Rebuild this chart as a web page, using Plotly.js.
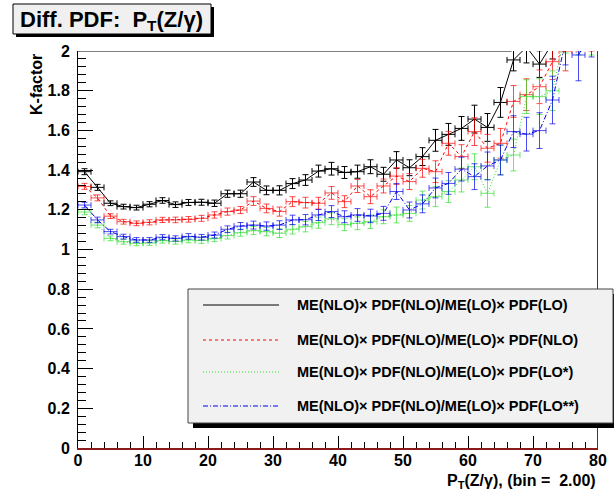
<!DOCTYPE html>
<html>
<head>
<meta charset="utf-8">
<script src="https://cdn.plot.ly/plotly-3.0.1.min.js"></script>
<style>html,body{margin:0;padding:0;background:#fff;}#chart{width:614px;height:494px;}</style>
</head>
<body>
<div id="chart"></div>
<script>
// bin centres (bin width 2)
const binCenters = [1,3,5,7,9,11,13,15,17,19,21,23,25,27,29,31,33,35,37,39,41,43,45,47,49,51,53,55,57,59,61,63,65,67,69,71,73,75,77,79];

const seriesNames = [
  "ME(NLO)\u00d7 PDF(NLO)/ME(LO)\u00d7 PDF(LO)",
  "ME(NLO)\u00d7 PDF(NLO)/ME(LO)\u00d7 PDF(NLO)",
  "ME(NLO)\u00d7 PDF(NLO)/ME(LO)\u00d7 PDF(LO*)",
  "ME(NLO)\u00d7 PDF(NLO)/ME(LO)\u00d7 PDF(LO**)"
];

const kLO = [1.392,1.313,1.233,1.216,1.211,1.228,1.247,1.226,1.237,1.238,1.233,1.281,1.281,1.340,1.298,1.298,1.332,1.350,1.395,1.407,
             1.388,1.392,1.417,1.379,1.451,1.412,1.468,1.550,1.580,1.610,1.657,1.615,1.741,1.955,2.020,1.934,2.040,2.200,2.300,2.300];
const errLO = [0.015,0.015,0.012,0.012,0.012,0.013,0.014,0.014,0.015,0.015,0.016,0.018,0.018,0.022,0.022,0.023,0.025,0.027,0.030,0.032,
               0.030,0.033,0.035,0.035,0.042,0.040,0.045,0.055,0.055,0.060,0.070,0.070,0.075,0.055,0.080,0.067,0.080,0.090,0.100,0.100];

const kNLO = [1.318,1.260,1.168,1.140,1.132,1.137,1.149,1.149,1.152,1.157,1.174,1.191,1.199,1.244,1.207,1.191,1.241,1.236,1.233,1.285,
              1.241,1.320,1.266,1.320,1.370,1.342,1.409,1.392,1.535,1.468,1.594,1.510,1.535,1.746,1.780,1.820,1.946,2.000,2.100,2.100];
const errNLO = [0.015,0.015,0.012,0.012,0.012,0.013,0.013,0.014,0.014,0.015,0.016,0.018,0.018,0.022,0.022,0.023,0.025,0.027,0.030,0.032,
                0.030,0.033,0.035,0.035,0.042,0.040,0.045,0.055,0.060,0.060,0.070,0.070,0.075,0.080,0.080,0.085,0.090,0.100,0.100,0.100];

const kLOstar = [1.189,1.123,1.056,1.039,1.031,1.033,1.045,1.040,1.048,1.045,1.055,1.070,1.085,1.095,1.090,1.082,1.102,1.115,1.135,1.155,
                 1.125,1.132,1.140,1.165,1.174,1.182,1.249,1.266,1.292,1.350,1.417,1.283,1.451,1.476,1.770,1.770,1.800,2.100,2.100,2.100];
const errLOstar = [0.014,0.014,0.012,0.012,0.012,0.012,0.013,0.013,0.014,0.014,0.015,0.017,0.018,0.020,0.021,0.022,0.024,0.026,0.028,0.030,
                   0.030,0.032,0.034,0.035,0.040,0.040,0.045,0.050,0.055,0.060,0.065,0.070,0.075,0.080,0.085,0.090,0.100,0.110,0.120,0.120];

const kLOstar2 = [1.224,1.149,1.090,1.065,1.048,1.048,1.062,1.056,1.066,1.062,1.073,1.102,1.118,1.123,1.118,1.123,1.149,1.150,1.174,1.191,
                  1.165,1.174,1.169,1.182,1.292,1.199,1.230,1.310,1.333,1.405,1.367,1.421,1.451,1.594,1.581,1.599,1.753,2.050,1.980,2.100];
const errLOstar2 = [0.014,0.014,0.012,0.012,0.012,0.012,0.013,0.013,0.014,0.014,0.015,0.017,0.018,0.020,0.021,0.022,0.024,0.026,0.028,0.030,
                    0.030,0.032,0.034,0.035,0.040,0.040,0.045,0.050,0.055,0.060,0.065,0.070,0.075,0.080,0.085,0.090,0.120,0.120,0.130,0.130];

const seriesValues = [kLO, kNLO, kLOstar, kLOstar2];
const seriesErrors = [errLO, errNLO, errLOstar, errLOstar2];
const seriesColors = ["#000000", "#ff0000", "#33dd33", "#0000ee"];
const errColors = ["#000000", "rgba(255,0,0,0.7)", "rgba(51,221,51,0.7)", "rgba(0,0,238,0.7)"];
const seriesDash = ["solid", "3px,3px", "1px,2px", "5px,2px,1px,2px"];

const xTickVals = [0,10,20,30,40,50,60,70,80];
const titleText = "Diff. PDF:\u00a0 P<sub>T</sub>(Z/\u03b3)";
const xTitleText = "P<sub>T</sub>(Z/\u03b3), (bin =\u00a0 2.00)";
const yTitleText = "K-factor";

// pixel -> paper helpers (plot area: x 78..598, y 51..448)
const L = 78, R = 598, T = 51, B = 448;
const px = X => (X - L) / (R - L);
const py = Y => (B - Y) / (B - T);

const FONT = "Liberation Sans, Arial, Helvetica, sans-serif";

const traces = seriesValues.map((vals, i) => ({
  type: "scatter",
  mode: "lines",
  x: binCenters,
  y: vals,
  name: seriesNames[i],
  showlegend: false,
  line: {color: seriesColors[i], width: 1, dash: seriesDash[i]},
  error_y: {type: "data", array: seriesErrors[i], visible: true, color: errColors[i], thickness: 1, width: 3},
  error_x: {type: "constant", value: 1, visible: true, color: errColors[i], thickness: 1, width: 3}
}));

const shapes = [];
const annotations = [];

// frame pieces
shapes.push({type: "line", xref: "x", yref: "y", x0: 0, x1: 66.7, y0: 2, y1: 2, line: {color: "#000", width: 1}, layer: "above"});
shapes.push({type: "line", xref: "x", yref: "y", x0: 80, x1: 80, y0: 0, y1: 2.005, line: {color: "#8b1a1a", width: 2}, layer: "above"});

// title box
shapes.push({type: "rect", xref: "paper", yref: "paper", x0: px(16), x1: px(214), y0: py(37), y1: py(7), fillcolor: "#000", line: {width: 0}, layer: "above"});
shapes.push({type: "rect", xref: "paper", yref: "paper", x0: px(13), x1: px(211), y0: py(34), y1: py(4), fillcolor: "#f0f0f0", line: {color: "#000", width: 1}, layer: "above"});

// legend box
shapes.push({type: "rect", xref: "paper", yref: "paper", x0: px(193), x1: px(618), y0: py(428), y1: py(294), fillcolor: "#000", line: {width: 0}, layer: "above"});
shapes.push({type: "rect", xref: "paper", yref: "paper", x0: px(188), x1: px(613), y0: py(423), y1: py(289), fillcolor: "#f1f1f1", line: {color: "#444", width: 1}, layer: "above"});

const rowY = [305, 340, 372, 406];
seriesNames.forEach((nm, i) => {
  shapes.push({type: "line", xref: "paper", yref: "paper", x0: px(203), x1: px(279), y0: py(rowY[i]), y1: py(rowY[i]),
               line: {color: seriesColors[i], width: 1, dash: seriesDash[i]}, layer: "above"});
  annotations.push({xref: "paper", yref: "paper", x: px(295), y: py(rowY[i]), xanchor: "left", yanchor: "middle",
                    text: nm, showarrow: false, font: {family: FONT, size: 14.5, weight: "bold", color: "#000"}});
});

// axis titles
annotations.push({xref: "paper", yref: "paper", x: 1, y: py(481), xanchor: "right", yanchor: "middle",
                  text: xTitleText, showarrow: false, font: {family: FONT, size: 16, weight: "bold", color: "#000"}});
annotations.push({xref: "paper", yref: "paper", x: px(36), y: py(85), xanchor: "center", yanchor: "middle", textangle: -90,
                  text: yTitleText, showarrow: false, font: {family: FONT, size: 16, weight: "bold", color: "#000"}});

const layout = {
  width: 614, height: 494,
  margin: {l: L, r: 614 - R, t: T, b: 494 - B, pad: 0},
  paper_bgcolor: "#fff", plot_bgcolor: "#fff",
  title: {text: titleText, xref: "container", yref: "container", x: 20 / 614, y: 1 - 19 / 494, xanchor: "left", yanchor: "middle",
          font: {family: FONT, size: 22, weight: "bold", color: "#000"}},
  xaxis: {
    range: [0, 80], tickvals: xTickVals, ticks: "inside", ticklen: 12, tickcolor: "#000", tickwidth: 1,
    minor: {dtick: 2, tick0: 0, ticks: "inside", ticklen: 6, tickcolor: "#000", tickwidth: 1},
    showgrid: false, zeroline: false, showline: true, linecolor: "#8b1a1a", linewidth: 1.5,
    tickfont: {family: FONT, size: 16, weight: "bold", color: "#000"}, ticklabelstandoff: -3, fixedrange: true
  },
  yaxis: {
    range: [0, 2], tick0: 0, dtick: 0.2, ticks: "inside", ticklen: 15, tickcolor: "#000", tickwidth: 1,
    minor: {dtick: 0.04, tick0: 0, ticks: "inside", ticklen: 8, tickcolor: "#000", tickwidth: 1},
    showgrid: false, zeroline: false, showline: true, linecolor: "#000", linewidth: 1,
    tickfont: {family: FONT, size: 16, weight: "bold", color: "#000"}, ticklabelstandoff: 4, fixedrange: true
  },
  shapes: shapes,
  annotations: annotations,
  showlegend: false
};

Plotly.newPlot("chart", traces, layout, {staticPlot: true, displayModeBar: false});
</script>
</body>
</html>
